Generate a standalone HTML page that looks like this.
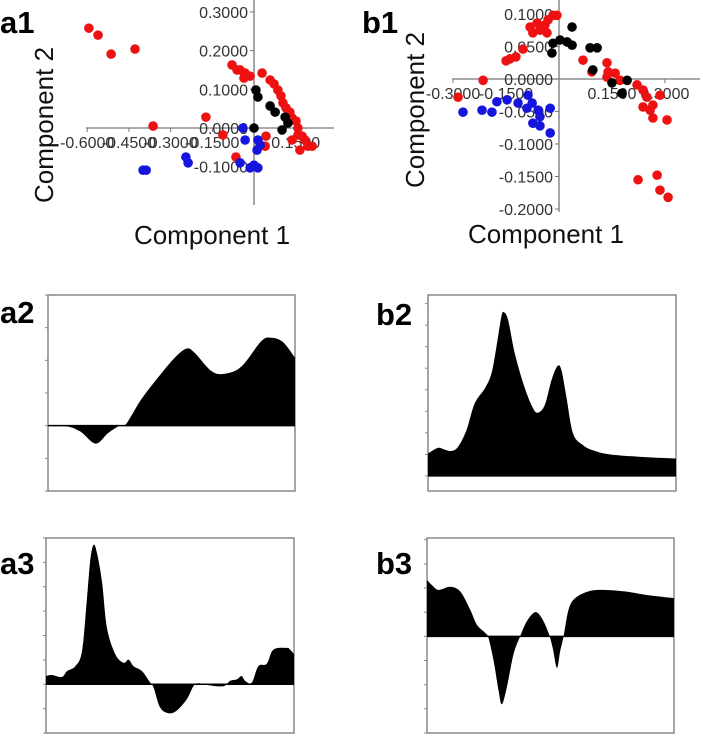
<!DOCTYPE html>
<html><head><meta charset="utf-8">
<style>
html,body{margin:0;padding:0;background:#fff;}
svg{display:block;font-family:"Liberation Sans",Arial,sans-serif;}
.tk{font-size:16px;fill:#333;}
.ttl{font-size:26px;fill:#111;}
.pl{font-size:31px;font-weight:bold;fill:#000;}
</style></head>
<body>
<svg id="fig" width="703" height="736" viewBox="0 0 703 736">
<text class="pl" x="0" y="33">a1</text>
<text class="pl" x="362" y="33">b1</text>
<text class="pl" x="0" y="323">a2</text>
<text class="pl" x="376" y="325">b2</text>
<text class="pl" x="0" y="574">a3</text>
<text class="pl" x="376" y="574">b3</text>
<text class="ttl" x="212" y="244" text-anchor="middle">Component 1</text>
<text class="ttl" transform="translate(53,125) rotate(-90)" text-anchor="middle">Component 2</text>
<text class="ttl" x="546" y="243" text-anchor="middle">Component 1</text>
<text class="ttl" transform="translate(424,110) rotate(-90)" text-anchor="middle">Component 2</text>
</svg>
<script>
// ---- a1 scatter data ----
const a1RedX=[-0.594,-0.561,-0.514,-0.428,-0.363,-0.173,-0.112,-0.065,-0.079,-0.050,-0.032,-0.014,0.029,0.058,0.072,0.086,0.097,0.104,0.115,0.129,0.137,0.151,0.158,0.158,0.173,0.183,0.194,0.209,0.165,0.137,0.043,0.040,-0.036,-0.061];
const a1RedY=[0.258,0.240,0.191,0.204,0.005,0.028,-0.018,-0.075,0.163,0.150,0.142,0.134,0.142,0.124,0.114,0.098,0.083,0.065,0.052,0.041,0.026,0.018,0,-0.018,-0.021,-0.031,-0.047,-0.047,-0.057,-0.031,-0.021,-0.047,0.129,0.150];
const a1BlueX=[-0.399,-0.388,-0.245,-0.237,-0.040,-0.032,0.014,0.022,0.011,-0.050,-0.014,0.014,0];
const a1BlueY=[-0.109,-0.109,-0.075,-0.090,0,-0.031,-0.031,-0.044,-0.057,-0.090,-0.103,-0.103,-0.096];
const a1BlackX=[0.007,0.014,0.058,0.076,0.112,0.122,0.101,0];
const a1BlackY=[0.098,0.080,0.057,0.041,0.028,0.013,-0.005,0];
const a1XTicks=[-0.6,-0.45,-0.3,-0.15,0.15];
const a1XTickLabels=["-0.6000","-0.4500","-0.3000","-0.1500","0.1500"];
const a1YTicks=[0.3,0.2,0.1,0,-0.1];
const a1YTickLabels=["0.3000","0.2000","0.1000","0.0000","-0.1000"];
// ---- b1 scatter data ----
const b1RedX=[-0.286,-0.215,-0.150,-0.139,-0.122,-0.102,-0.082,-0.074,-0.054,-0.040,-0.031,-0.017,-0.006,-0.062,-0.034,0.068,0.093,0.136,0.139,0.159,0.173,0.221,0.238,0.249,0.238,0.258,0.266,0.266,0.286,0.306,0.224,0.278,0.286,0.309,0.136];
const b1RedY=[-0.028,-0.002,0.028,0.031,0.034,0.046,0.080,0.071,0.075,0.083,0.091,0.098,0.098,0.086,0.071,0.029,0.011,0.025,0.011,0.009,-0.002,-0.009,-0.017,-0.028,-0.043,-0.048,-0.040,-0.060,-0.025,-0.063,-0.155,-0.148,-0.171,-0.182,0.003];
const b1BlackX=[0.037,-0.017,0.003,0.023,0.037,-0.020,0.088,0.108,0.096,0.193,0.178,0.150];
const b1BlackY=[0.080,0.055,0.060,0.057,0.052,0.040,0.048,0.048,0.014,-0.002,-0.022,-0.006];
const b1BlueX=[-0.272,-0.218,-0.190,-0.176,-0.147,-0.116,-0.088,-0.076,-0.091,-0.059,-0.054,-0.074,-0.054,-0.025,-0.025];
const b1BlueY=[-0.051,-0.048,-0.051,-0.035,-0.032,-0.037,-0.025,-0.037,-0.045,-0.048,-0.058,-0.068,-0.072,-0.045,-0.083];
const b1XTicks=[-0.3,-0.15,0.15,0.3];
const b1XTickLabels=["-0.3000","-0.1500","0.1500","0.3000"];
const b1YTicks=[0.1,0.05,0,-0.05,-0.1,-0.15,-0.2];
const b1YTickLabels=["0.1000","0.0500","0.0000","-0.0500","-0.1000","-0.1500","-0.2000"];
// ---- loading plot data (x in % of range, y in tick units) ----
const a2X=[0,7.7,13.1,19.3,24.3,29,31.7,37.7,44.5,51.3,56.1,59.4,66.2,71.6,78.3,86.4,90.4,95.1,100];
const a2Y=[0,-0.02,-0.18,-0.55,-0.23,0,0.06,0.8,1.47,2.08,2.36,2.23,1.67,1.59,1.81,2.59,2.69,2.56,2.08];
const b2X=[0,4,6.7,9.4,12.1,15.5,18.8,22.9,25.6,27.6,29.6,30.6,32.3,35,38.4,41.7,44.1,47.1,49.8,52.2,53.8,55.8,58.5,62.5,66.5,73.2,86.7,100];
const b2Y=[1.04,1.3,1.22,1.16,1.35,2.12,3.36,4.06,4.76,6.0,7.4,7.6,7.24,5.69,4.3,3.29,2.93,3.29,4.45,5.1,4.91,3.67,1.97,1.43,1.19,1.0,0.88,0.81];
const a3X=[0,2.4,6.4,8.5,11.8,14.5,16.5,17.9,19.2,20.5,22.6,24.6,28,31.3,33.3,35.3,38.7,42,43.4,46,49.4,52.7,56.8,59.5,61.5,64.8,71.5,74.2,76.9,78.9,80.3,83,85.6,89,91.7,97.1,98.4,100];
const a3Y=[0.34,0.38,0.3,0.54,0.74,1.35,3.5,5.14,5.72,5.41,4.19,2.3,1.22,0.88,1.01,0.74,0.54,0.07,-0.14,-0.95,-1.19,-1.08,-0.61,-0.07,0.04,-0.03,-0.08,0.14,0.2,0.34,0.14,0.07,0.74,0.84,1.42,1.49,1.42,1.24];
const b3X=[0,2,4.7,9.4,13.5,17.5,20.2,23.6,24.9,27,29,30.3,32.3,35,37.7,40.4,43.8,46.5,49.2,50.9,52.6,53.9,55.3,57.3,60,66,72.8,80.9,89,100];
const b3Y=[2.33,2.12,1.92,2.05,1.85,1.1,0.48,0.14,-0.07,-1.03,-2.26,-2.81,-2.12,-0.75,0,0.62,1.0,0.75,0.14,-0.48,-1.3,-0.62,0,1.1,1.58,1.88,1.92,1.85,1.71,1.58];

const NS="http://www.w3.org/2000/svg";
const svg=document.getElementById('fig');
function mk(tag,attrs,parent){const e=document.createElementNS(NS,tag);for(const k in attrs)e.setAttribute(k,attrs[k]);(parent||svg).appendChild(e);return e;}

function scatter(prefix,o){
  const g=mk('g',{});
  
  
  const sx=v=>o.x0+v*o.kx, sy=v=>o.y0-v*o.ky;
  const xa=mk('line',{x1:o.xl,x2:o.xr,y1:o.y0,y2:o.y0,stroke:'#777','stroke-width':1.3},g);
  
  
  const ya=mk('line',{x1:o.x0,x2:o.x0,y1:o.yt,y2:o.yb,stroke:'#777','stroke-width':1.3},g);
  
  
  o.xt.forEach((v,i)=>{
    mk('line',{x1:sx(v),x2:sx(v),y1:o.y0,y2:o.y0+4,stroke:'#777'},g);
    const t=mk('text',{x:sx(v),y:o.y0+o.xlo,'text-anchor':'middle',class:'tk'},g);
    t.textContent=o.xtl[i];
    
    
  });
  o.yt.forEach((v,i)=>{
    mk('line',{x1:o.x0-4,x2:o.x0,y1:sy(v),y2:sy(v),stroke:'#777'},g);
    const t=mk('text',{x:o.x0-6,y:sy(v)+6,'text-anchor':'end',class:'tk'},g);
    t.textContent=o.ytl[i];
    
    
  });
  o.series.forEach(s=>{
    s.xs.forEach((v,i)=>{
      const c=mk('circle',{cx:sx(v),cy:sy(s.ys[i]),r:o.r,fill:s.col},g);
      
      
    });
  });
}
scatter('a1',{x0:254,y0:128,kx:278,ky:387,xl:86,xr:334,yt:10,yb:205,xlo:20,r:4.8,
  xt:a1XTicks,xtl:a1XTickLabels,yt:a1YTicks,ytl:a1YTickLabels,
  series:[{name:'red',xs:a1RedX,ys:a1RedY,col:'#ee1111'},{name:'blue',xs:a1BlueX,ys:a1BlueY,col:'#1515dd'},{name:'black',xs:a1BlackX,ys:a1BlackY,col:'#000'}]});
scatter('b1',{x0:559,y0:79,kx:353,ky:650,xl:452,xr:700,yt:10,yb:212,xlo:20,r:4.8,
  xt:b1XTicks,xtl:b1XTickLabels,yt:b1YTicks,ytl:b1YTickLabels,
  series:[{name:'red',xs:b1RedX,ys:b1RedY,col:'#ee1111'},{name:'black',xs:b1BlackX,ys:b1BlackY,col:'#000'},{name:'blue',xs:b1BlueX,ys:b1BlueY,col:'#1515dd'}]});

function loading(prefix,o,xs,ys){
  const g=mk('g',{});
  
  
  const W=o.r-o.l,H=o.b-o.t;
  const sx=v=>o.l+v/100*W, sy=v=>o.b-(v-o.ymin)/(o.ymax-o.ymin)*H;
  const box=mk('rect',{x:o.l,y:o.t,width:W,height:H,fill:'none',stroke:'#888','stroke-width':1.5},g);
  
  
  for(let v=Math.ceil(o.ymin);v<=o.ymax;v++){
    mk('line',{x1:o.l-3,x2:o.l,y1:sy(v),y2:sy(v),stroke:'#888'},g);
  }
  const P=xs.map((x,i)=>[sx(x),sy(ys[i])]);
  let d='M'+sx(xs[0])+','+sy(0)+' L'+P[0][0]+','+P[0][1];
  for(let i=0;i<P.length-1;i++){
    const p0=P[Math.max(0,i-1)],p1=P[i],p2=P[i+1],p3=P[Math.min(P.length-1,i+2)];
    const c1=[p1[0]+(p2[0]-p0[0])/6,p1[1]+(p2[1]-p0[1])/6];
    const c2=[p2[0]-(p3[0]-p1[0])/6,p2[1]-(p3[1]-p1[1])/6];
    d+=' C'+c1.join(',')+' '+c2.join(',')+' '+p2.join(',');
  }
  d+=' L'+sx(xs[xs.length-1])+','+sy(0)+' Z';
  const area=mk('path',{d:d,fill:'#000'},g);
  
  
  const z=mk('line',{x1:o.l,x2:o.r,y1:sy(0),y2:sy(0),stroke:'#000','stroke-width':1.5},g);
  
  
}
loading('a2',{l:48,r:295,t:295,b:491,ymin:-2,ymax:4},a2X,a2Y);
loading('b2',{l:428,r:676,t:295,b:491,ymin:-0.7,ymax:8.4},b2X,b2Y);
loading('a3',{l:46,r:294,t:538,b:733,ymin:-2,ymax:6},a3X,a3Y);
loading('b3',{l:427,r:674,t:538,b:733,ymin:-4,ymax:4.07},b3X,b3Y);
</script>
</body></html>
